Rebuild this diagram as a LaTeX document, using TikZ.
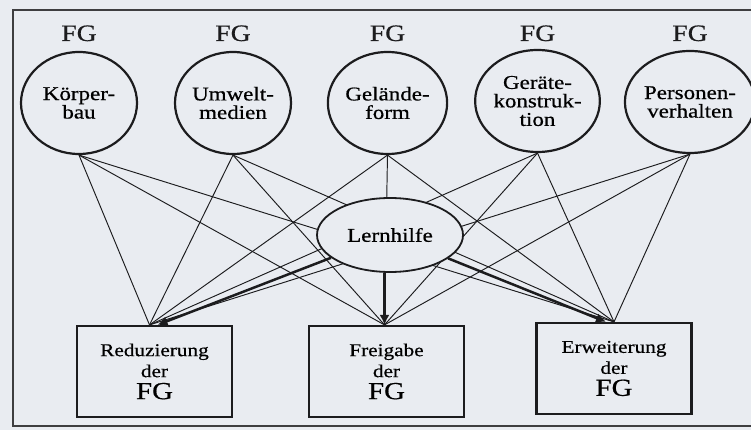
\documentclass[tikz,border=0pt]{standalone}
\usepackage{fontspec}
\setmainfont{Liberation Serif}[FakeStretch=1.18,FakeBold=0.6]
\usetikzlibrary{shapes.geometric,arrows.meta}
\definecolor{paper}{HTML}{E9ECF1}
\definecolor{ink}{HTML}{1C1C1E}
\pgfdeclarelayer{paperlayer}
\pgfdeclarelayer{wires}
\pgfsetlayers{paperlayer,wires,main}
\tikzset{
  factor/.style={ellipse, draw=ink, line width=2.2pt, fill=paper, inner sep=0pt,
    minimum width=116pt, minimum height=102pt, align=center,
    font=\fontsize{19.5}{18.5}\selectfont},
  fglabel/.style={anchor=base, font=\fontsize{23.5}{23.5}\selectfont, text=ink},
  help/.style={ellipse, draw=ink, line width=1.8pt, fill=paper, inner sep=0pt,
    minimum width=146pt, minimum height=74pt, font=\fontsize{19.5}{19.5}\selectfont},
  result/.style={rectangle, draw=ink, line width=2.2pt, fill=paper, inner sep=0pt,
    minimum width=155pt, minimum height=91pt, align=center,
    font=\fontsize{18}{21}\selectfont},
  link/.style={draw=ink, line width=0.95pt},
  effect/.style={draw=ink, line width=2.5pt, -{Latex[length=10pt,width=10pt]}},
}
\newcommand{\bigfg}{{\fontsize{24.5}{24.5}\selectfont FG}}
\begin{document}
\begin{tikzpicture}[x=1pt,y=-1pt]
  % page and outer frame
  \begin{pgfonlayer}{paperlayer}
    \fill[paper] (0,0) rectangle (751,430);
    \begin{scope}
      \clip (0,0) rectangle (751,430);
      \draw[ink!85, line width=1.3pt] (13,10) rectangle (770,426);
    \end{scope}
  \end{pgfonlayer}
  \useasboundingbox (0,0) rectangle (751,430);

  % the five factor groups, each labelled FG
  \foreach \n/\x/\y/\w/\txt in {%
      kb/79/103/116/{Körper-\\bau},
      um/233/103/116/{Umwelt-\\medien},
      gf/387.5/103/116/{Gelände-\\form},
      gk/537.5/101/106/{Geräte-\\konstruk-\\tion},
      pv/690/102/114/{Personen-\\verhalten}} {
    \node[factor, minimum width=\w pt] (\n) at (\x,\y) {\txt};
    \node[fglabel] at (\x,41) {FG};
  }

  % the three outcomes
  \node[result] (red) at (154.5,371.5) {Reduzierung\\der\\[1pt]\bigfg};
  \node[result] (fre) at (386.5,371.5) {Freigabe\\der\\[1pt]\bigfg};
  \node[result] (erw) at (614,368.5)   {Erweiterung\\der\\[1pt]\bigfg};

  % meeting points on the boxes
  \coordinate (redin) at ([xshift=-5pt]red.north);
  \coordinate (frein) at ([xshift=-2pt]fre.north);
  \coordinate (erwin) at (erw.north);

  % every factor group feeds every outcome
  \begin{pgfonlayer}{wires}
    \foreach \s in {kb,um,gf,gk,pv}
      \foreach \t in {redin,frein,erwin}
        \draw[link] (\s.south) -- (\t);
  \end{pgfonlayer}

  % the learning aid and its effect on the outcomes
  \node[help] (lh) at (390,235) {Lernhilfe};
  \draw[effect] (lh) -- ([xshift=3pt]red.north);
  \draw[effect] (lh.south -| frein) -- (frein);
  \draw[effect] (lh) -- ([xshift=-8pt]erw.north);
\end{tikzpicture}
\end{document}
